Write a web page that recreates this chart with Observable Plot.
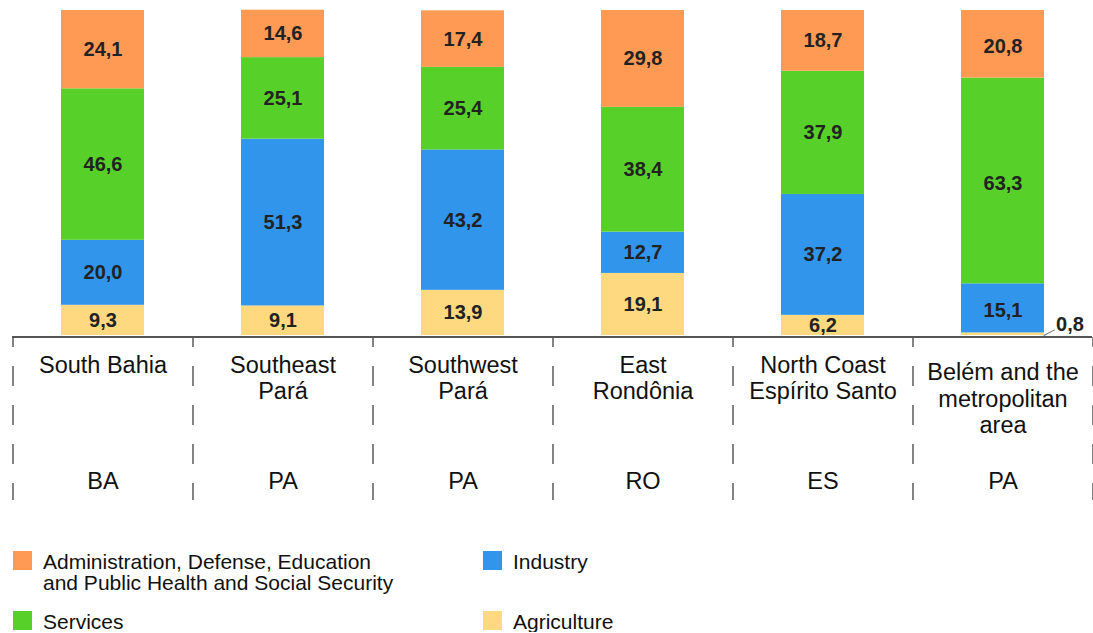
<!DOCTYPE html>
<html>
<head>
<meta charset="utf-8">
<script src="https://cdn.jsdelivr.net/npm/d3@7"></script>
<script src="https://cdn.jsdelivr.net/npm/@observablehq/plot@0.6"></script>
<style>
  html, body { margin: 0; padding: 0; background: #fff; }
  body { font-family: "Liberation Sans", Arial, Helvetica, sans-serif; width: 1093px; }
  #chart svg { display: block; }
  .legend {
    display: grid;
    grid-template-columns: 470px auto;
    row-gap: 18px;
    margin: 41px 0 0 13px;
    font-size: 21px;
    line-height: 21px;
    color: #111;
  }
  .legend .item { display: flex; align-items: flex-start; }
  .legend .swatch { width: 19px; height: 19px; flex: none; margin-right: 11px; }
  .legend .row1 { min-height: 42px; }
</style>
</head>
<body>
<div id="chart"></div>
<div class="legend" id="legend"></div>
<script>
// Regions (columns), their two-letter state codes and the wrapped labels
const regions = ["South Bahia", "Southeast Pará", "Southwest Pará", "East Rondônia", "North Coast Espírito Santo", "Belém and the metropolitan area"];
const regionLabels = ["South Bahia", "Southeast\nPará", "Southwest\nPará", "East\nRondônia", "North Coast\nEspírito Santo", "Belém and the\nmetropolitan\narea"];
const states = ["BA", "PA", "PA", "RO", "ES", "PA"];

// Share of each sector in the region's economy (%), bottom to top of each bar
const sectors = ["Agriculture", "Industry", "Services", "Administration, Defense, Education and Public Health and Social Security"];
const agriculture = [9.3, 9.1, 13.9, 19.1, 6.2, 0.8];
const industry = [20.0, 51.3, 43.2, 12.7, 37.2, 15.1];
const services = [46.6, 25.1, 25.4, 38.4, 37.9, 63.3];
const administration = [24.1, 14.6, 17.4, 29.8, 18.7, 20.8];
const sectorColors = ["#FFD97F", "#3095EB", "#57D12A", "#FF9A55"];

// Legend order: two columns, two rows
const legendOrder = [3, 1, 2, 0];
const legendLabels = ["Agriculture", "Industry", "Services", "Administration, Defense, Education<br>and Public Health and Social Security"];

const seriesValues = [agriculture, industry, services, administration];
const rows = [];
sectors.forEach((sector, s) => {
  regions.forEach((region, r) => {
    rows.push({region, sector, value: seriesValues[s][r]});
  });
});
const regionRows = regions.map((region, i) => ({region, label: regionLabels[i], state: states[i]}));

const fmt = v => v.toFixed(1).replace(".", ",");
const font = '"Liberation Sans", Arial, Helvetica, sans-serif';

const chart = Plot.plot({
  width: 1093,
  height: 510,
  marginTop: 10,
  marginBottom: 175,
  marginLeft: 12,
  marginRight: 1,
  style: {fontFamily: font, background: "#fff"},
  x: {domain: regions, paddingInner: 0.54, paddingOuter: 0.27, axis: null},
  y: {domain: [0, 100], axis: null},
  color: {domain: sectors, range: sectorColors},
  marks: [
    Plot.barY(rows, Plot.stackY({x: "region", y: "value", z: "sector", fill: "sector", order: sectors})),
    // column separators below the baseline
    Plot.ruleX(regions, {x: d => d, dx: -90, insetTop: 327, insetBottom: -165, stroke: "#777", strokeWidth: 1.8, strokeDasharray: "20,19", strokeDashoffset: 10}),
    Plot.ruleX(regions.slice(-1), {x: d => d, dx: 90, insetTop: 327, insetBottom: -165, stroke: "#777", strokeWidth: 1.8, strokeDasharray: "20,19", strokeDashoffset: 10}),
    Plot.ruleY([0], {stroke: "#555", strokeWidth: 2, dy: 1.5}),
    // values inside the segments
    Plot.text(rows, Plot.stackY({
      filter: d => d.value >= 1,
      x: "region", y: "value", z: "sector", order: sectors,
      text: d => fmt(d.value),
      fontSize: 20, fontWeight: "bold", fill: "#222"
    })),
    // small segment labelled beside the bar with a leader line
    Plot.vector(rows, Plot.stackY1({
      filter: d => d.value < 1,
      x: "region", y: "value", z: "sector", order: sectors,
      length: 12, rotate: 62, anchor: "start", dx: 41,
      shape: {draw(context, l) { context.moveTo(0, 0); context.lineTo(0, -l); }},
      stroke: "#777", strokeWidth: 1
    })),
    Plot.text(rows, Plot.stackY({
      filter: d => d.value < 1,
      x: "region", y: "value", z: "sector", order: sectors,
      text: d => fmt(d.value),
      dx: 67, dy: -10,
      fontSize: 20, fontWeight: "bold", fill: "#222"
    })),
    // region names and state codes
    Plot.text(regionRows, {
      filter: d => d.label.split("\n").length < 3,
      x: "region", text: "label", frameAnchor: "bottom", lineAnchor: "top",
      dy: 19, fontSize: 23.5, lineHeight: 1.106, fill: "#111"
    }),
    Plot.text(regionRows, {
      filter: d => d.label.split("\n").length >= 3,
      x: "region", text: "label", frameAnchor: "bottom", lineAnchor: "top",
      dy: 26, fontSize: 23.5, lineHeight: 1.13, fill: "#111"
    }),
    Plot.text(regionRows, {
      x: "region", text: "state", frameAnchor: "bottom", lineAnchor: "middle",
      dy: 146, fontSize: 23.5, fill: "#111"
    })
  ]
});
document.getElementById("chart").appendChild(chart);

// legend below the chart
const legend = document.getElementById("legend");
legendOrder.forEach((s, k) => {
  const item = document.createElement("div");
  item.className = "item" + (k < 2 ? " row1" : "");
  item.innerHTML = `<span class="swatch" style="background:${sectorColors[s]}"></span><span>${legendLabels[s]}</span>`;
  legend.appendChild(item);
});
</script>
</body>
</html>
